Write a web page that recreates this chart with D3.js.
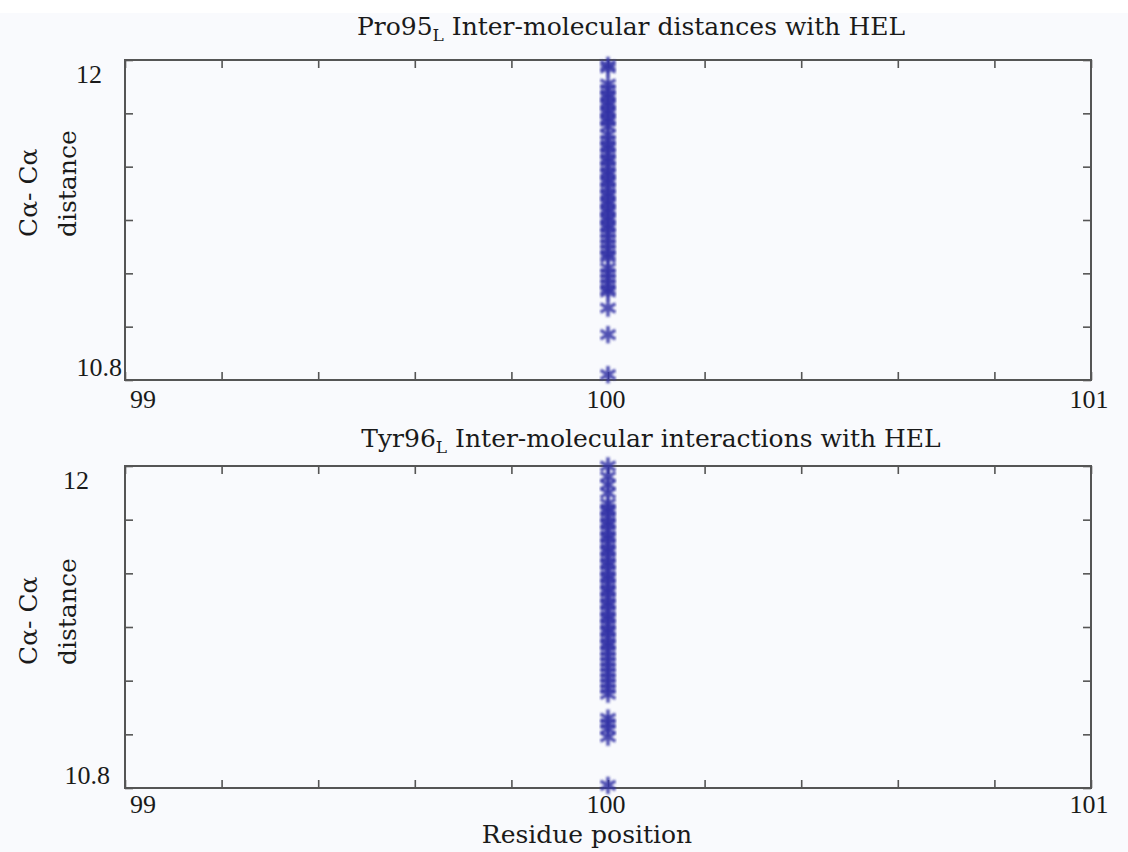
<!DOCTYPE html>
<html>
<head>
<meta charset="utf-8">
<script src="https://cdn.jsdelivr.net/npm/d3@7"></script>
<style>
  html, body { margin: 0; padding: 0; background: #f9fafd; }
  svg { display: block; }
  text { font-family: "DejaVu Serif", serif; fill: #1a1a1a; }
  text.num { font-family: "Liberation Serif", serif; }
</style>
</head>
<body>
<svg id="chart" width="1128" height="852"></svg>
<script>
// residue position of every point
const residue = 100;

// Ca-Ca distances (Pro95L)
const pro95Dist = [
  11.98, 11.97, 11.91, 11.89, 11.87, 11.86, 11.84, 11.83, 11.81, 11.80,
  11.78, 11.77, 11.75, 11.72, 11.70, 11.68, 11.67, 11.65, 11.63, 11.62,
  11.60, 11.58, 11.57, 11.55, 11.54, 11.52, 11.50, 11.49, 11.47, 11.46,
  11.44, 11.43, 11.41, 11.40, 11.38, 11.37, 11.35, 11.33, 11.31, 11.29,
  11.27, 11.26, 11.22, 11.20, 11.18, 11.16, 11.14, 11.13, 11.07, 10.97,
  10.82
];

// Ca-Ca distances (Tyr96L)
const tyr96Dist = [
  12.00, 11.96, 11.93, 11.90, 11.86, 11.84, 11.83, 11.81, 11.79, 11.78,
  11.76, 11.74, 11.73, 11.71, 11.69, 11.68, 11.66, 11.64, 11.63, 11.61,
  11.59, 11.58, 11.56, 11.54, 11.53, 11.51, 11.49, 11.48, 11.46, 11.44,
  11.43, 11.41, 11.39, 11.38, 11.36, 11.34, 11.33, 11.31, 11.29, 11.27,
  11.25, 11.23, 11.21, 11.19, 11.17, 11.15, 11.06, 11.04, 11.02, 10.99,
  10.81
];

const xDomain = [99, 101];
const yDomain = [10.8, 12];
const xTicks = [99, 99.2, 99.4, 99.6, 99.8, 100, 100.2, 100.4, 100.6, 100.8, 101];
const yTicks = [10.8, 11.0, 11.2, 11.4, 11.6, 11.8, 12.0];
const xLabels = [99, 100, 101];
const yLabels = [10.8, 12];

const titles = [
  { main: 'Pro95', sub: 'L', rest: ' Inter-molecular distances with HEL' },
  { main: 'Tyr96', sub: 'L', rest: ' Inter-molecular interactions with HEL' }
];

const svg = d3.select('#chart');
svg.append('rect').attr('width', 1128).attr('height', 13).attr('fill', '#ffffff');

const left = 125, right = 1091;
const panels = [
  { top: 60, bottom: 380, data: pro95Dist, title: titles[0], titleX: 631, titleY: 35,
    yLabX: 122, yLab12X: 102, yNameBottom: 237, xLabDy: 28 },
  { top: 466, bottom: 788, data: tyr96Dist, title: titles[1], titleX: 651, titleY: 447,
    yLabX: 110, yLab12X: 89, yNameBottom: 665, xLabDy: 25 }
];

const x = d3.scaleLinear().domain(xDomain).range([left, right]);

const marker = d3.symbol().type(d3.symbolAsterisk).size(210);

const defs = svg.append('defs');
defs.append('filter').attr('id', 'soft')
  .append('feGaussianBlur').attr('stdDeviation', 0.8);

panels.forEach(p => {
  const y = d3.scaleLinear().domain(yDomain).range([p.bottom, p.top]);
  const g = svg.append('g');

  // title with subscript
  const t = g.append('text')
    .attr('x', p.titleX).attr('y', p.titleY)
    .attr('text-anchor', 'middle')
    .style('font-size', '25px');
  t.append('tspan').text(p.title.main);
  t.append('tspan').attr('dy', 6).style('font-size', '17px').text(p.title.sub);
  t.append('tspan').attr('dy', -6).text(p.title.rest);

  // ticks (inward on all four sides)
  const tickLen = 8;
  const axes = [
    { ax: d3.axisBottom(x).tickValues(xTicks).tickSize(-tickLen), tr: `translate(0,${p.bottom})` },
    { ax: d3.axisTop(x).tickValues(xTicks).tickSize(-tickLen), tr: `translate(0,${p.top})` },
    { ax: d3.axisLeft(y).tickValues(yTicks).tickSize(-tickLen), tr: `translate(${left},0)` },
    { ax: d3.axisRight(y).tickValues(yTicks).tickSize(-tickLen), tr: `translate(${right},0)` }
  ];
  axes.forEach(a => {
    const ag = g.append('g').attr('transform', a.tr).call(a.ax.tickFormat(''));
    ag.select('.domain').remove();
    ag.selectAll('.tick line').attr('stroke', '#555').attr('stroke-width', 1.6);
  });

  // frame
  g.append('rect')
    .attr('x', left).attr('y', p.top)
    .attr('width', right - left).attr('height', p.bottom - p.top)
    .attr('fill', 'none').attr('stroke', '#555').attr('stroke-width', 2);

  // x labels
  g.selectAll('.xlab').data(xLabels).join('text')
    .attr('class', 'xlab num')
    .attr('x', d => x(d) + (d === xDomain[0] ? 5 : -2))
    .attr('y', p.bottom + p.xLabDy)
    .attr('text-anchor', d => d === xDomain[0] ? 'start' : 'middle')
    .style('font-size', '26px')
    .text(d => d);

  // y labels: 12 sits under the top edge, 10.8 above the bottom edge
  g.selectAll('.ylab').data(yLabels).join('text')
    .attr('class', 'ylab num')
    .attr('x', d => d === yDomain[1] ? p.yLab12X : p.yLabX)
    .attr('y', d => y(d) + (d === yDomain[1] ? 23 : -4))
    .attr('text-anchor', 'end')
    .style('font-size', '26px')
    .text(d => d);

  // y axis name, two rotated lines
  const yn = g.append('text')
    .attr('transform', `translate(37,${p.yNameBottom}) rotate(-90)`)
    .style('font-size', '25px');
  yn.append('tspan').attr('x', 0).attr('y', 0).text('Cα- Cα');
  yn.append('tspan').attr('x', 0).attr('y', 39).text('distance');

  // points
  g.append('g').attr('filter', 'url(#soft)')
    .selectAll('path').data(p.data).join('path')
    .attr('transform', d => `translate(${x(residue)},${y(d)})`)
    .attr('d', marker)
    .attr('fill', 'none')
    .attr('stroke', '#3434a6')
    .attr('stroke-width', 3.5)
    .attr('stroke-opacity', 0.85);
});

// shared x axis name
svg.append('text')
  .attr('x', 587).attr('y', 843)
  .attr('text-anchor', 'middle')
  .style('font-size', '25px')
  .text('Residue position');
</script>
</body>
</html>
